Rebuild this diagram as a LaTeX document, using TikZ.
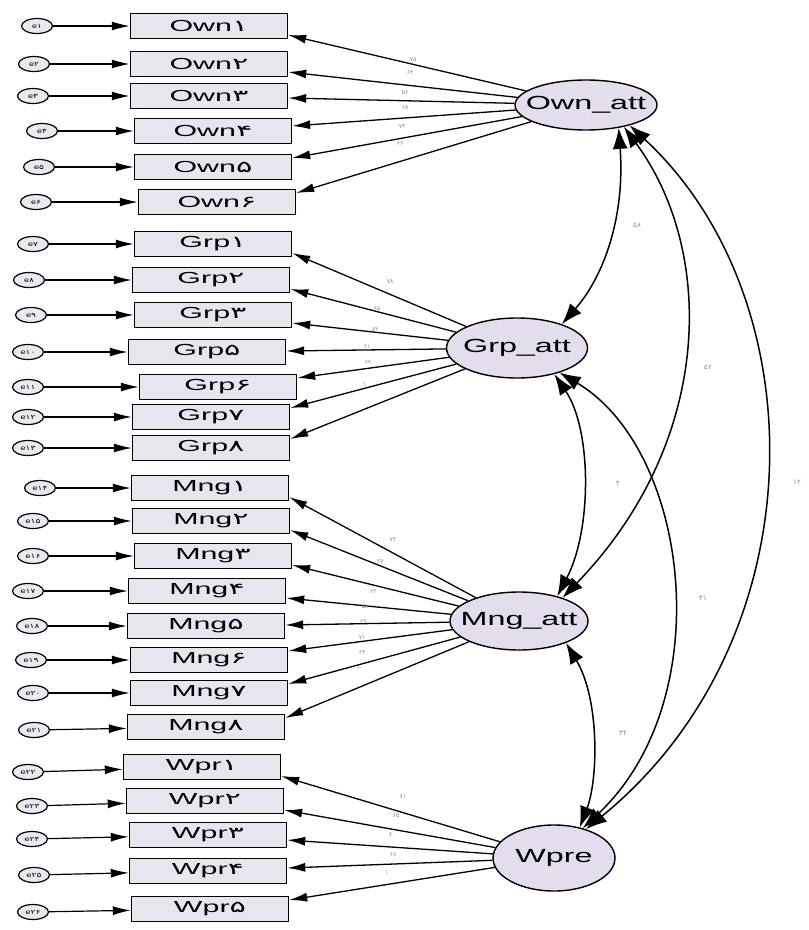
\documentclass[tikz,border=0pt]{standalone}
\usepackage{graphicx}
\usepackage{fontspec}
\setmainfont{Liberation Sans}
\newfontfamily\dvfont{DejaVu Sans}
\usetikzlibrary{arrows.meta,shapes.geometric}
\newcommand{\fd}[1]{{\dvfont #1}}
\newcommand{\wide}[2]{\scalebox{#1}[1]{#2}}
\newcommand{\lattext}[1]{\makebox[40pt]{\scalebox{1.7}[1]{#1}}}
\definecolor{boxfill}{HTML}{E8E5EF}
\definecolor{latfill}{HTML}{E3DDEE}
\definecolor{errfill}{HTML}{ECE8F2}
\definecolor{coefgray}{HTML}{8A8A8A}
\begin{document}
\begin{tikzpicture}[x=1pt,y=-1pt,
  ind/.style={draw, line width=1.4pt, fill=boxfill, minimum width=157pt, minimum height=25pt, inner sep=0pt, font=\fontsize{16}{16}\selectfont},
  lat/.style={draw, ellipse, line width=1.4pt, fill=latfill, inner sep=0pt, font=\fontsize{19}{19}\selectfont},
  err/.style={draw, ellipse, line width=1.2pt, fill=errfill, minimum width=31pt, minimum height=15pt, inner sep=0pt, font=\fontsize{6.5}{6.5}\selectfont},
  load/.style={line width=1.3pt, -{Latex[length=18pt,width=9pt]}},
  errarrow/.style={line width=1.2pt, -{Latex[length=18pt,width=9pt]}},
  cov/.style={line width=1.5pt, {Latex[length=21pt,width=15pt]}-{Latex[length=21pt,width=15pt]}},
  coef/.style={font=\fontsize{6}{6}\selectfont, text=coefgray, inner sep=0pt},
  covlab/.style={font=\fontsize{7}{7}\selectfont, text=coefgray, inner sep=0pt}
]
\fill[white] (0,0) rectangle (809,930);
\useasboundingbox (0,0) rectangle (809,930);

% latent variables
\node[lat, minimum width=142pt, minimum height=50pt] (own) at (586,105) {\lattext{Own\_att}};
\node[lat, minimum width=141pt, minimum height=60pt] (grp) at (517,348) {\lattext{Grp\_att}};
\node[lat, minimum width=138pt, minimum height=58pt] (mng) at (519,621) {\lattext{Mng\_att}};
\node[lat, minimum width=122pt, minimum height=66pt] (wpre) at (554,858) {\lattext{Wpre}};

% indicators with error terms and loadings
\foreach \nm/\cx/\cy/\base/\dig/\ex/\ey/\en/\lt/\dy in {
  o1/209/26/Own/۱/37/26/۱/own/9,
  o2/209/64/Own/۲/34/64/۲/own/8,
  o3/209/96/Own/۳/33/96/۳/own/2,
  o4/213/131/Own/۴/42/131/۴/own/-5,
  o5/213/167/Own/۵/39/167/۵/own/-9,
  o6/217/202/Own/۶/36/202/۶/own/-9,
  g1/213/244/Grp/۱/33/244/۷/grp/9,
  g2/211/280/Grp/۲/29/280/۸/grp/9,
  g3/213/315/Grp/۳/31/315/۹/grp/8,
  g5/207/352/Grp/۵/28/352/۱۰/grp/-1,
  g6/218/387/Grp/۶/28/387/۱۱/grp/-9,
  g7/211/417/Grp/۷/28/417/۱۲/grp/-9,
  g8/211/448/Grp/۸/28/448/۱۳/grp/-9,
  m1/210/488/Mng/۱/40/488/۱۴/mng/9,
  m2/211/521/Mng/۲/33/521/۱۵/mng/9,
  m3/213/556/Mng/۳/33/556/۱۶/mng/9,
  m4/207/591/Mng/۴/28/591/۱۷/mng/7,
  m5/206/626/Mng/۵/32/626/۱۸/mng/-1,
  m6/209/660/Mng/۶/31/660/۱۹/mng/-9,
  m7/209/693/Mng/۷/33/693/۲۰/mng/-9,
  m8/206/727/Mng/۸/34/730/۲۱/mng/-9,
  w1/202/767/Wpr/۱/28/772/۲۲/wpre/9,
  w2/205/801/Wpr/۲/32/806/۲۳/wpre/9,
  w3/208/835/Wpr/۳/32/839/۲۴/wpre/5,
  w4/208/871/Wpr/۴/34/875/۲۵/wpre/-3,
  w5/210/909/Wpr/۵/33/912/۲۶/wpre/-9}
{
  \node[ind] (\nm) at (\cx,\cy) {\wide{1.9}{\base\fd{\dig}}};
  \node[err] (e\nm) at (\ex,\ey) {\wide{1.4}{e\fd{\en}}};
  \draw[errarrow] (e\nm) -- (\nm);
  \draw[load] (\lt) -- ([yshift=-\dy pt]\nm.east);
}

% loading coefficients
\foreach \nm/\lx/\ly/\txt in {
  co1/413/60/۷۵, co2/410/73/۶۴, co3/405/93/۵۶, co4/405/108/۶۸, co5/402/127/۷۳, co6/400/144/۶۶,
  cg1/390/282/۷۸, cg2/377/309/۶۵, cg3/375/330/۷۴, cg5/367/347/۶۱, cg6/368/363/۶۲, cg7/365/385/۱,
  cm1/393/540/۷۲, cm2/380/562/۶۷, cm3/373/592/۶۳, cm4/365/607/۵۸, cm5/363/622/۶۹, cm6/362/638/۷۱, cm7/362/653/۶۴, cm8/360/668/۶۰,
  cw1/403/797/۷۱, cw2/396/816/۶۵, cw3/392/835/۷۰, cw4/393/855/۶۸, cw5/387/873/۱}
{
  \node[coef] (\nm) at (\lx,\ly) {\fd{\txt}};
}

% covariances
\draw[cov] (own.325) .. controls (625,215) and (605,275) .. (grp.28);
\draw[cov] (own.330) .. controls (715,250) and (715,440) .. (mng.28);
\draw[cov] (own.335) .. controls (818,300) and (818,640) .. (wpre.42);
\draw[cov] (grp.325) .. controls (592,430) and (592,530) .. (mng.33);
\draw[cov] (grp.330) .. controls (690,450) and (720,700) .. (wpre.46);
\draw[cov] (mng.335) .. controls (600,700) and (598,780) .. (wpre.50);

\node[covlab] (k1) at (637,225) {\fd{۵۸}};
\node[covlab] (k2) at (708,367) {\fd{۵۶}};
\node[covlab] (k3) at (797,482) {\fd{۱۲}};
\node[covlab] (k4) at (618,483) {\fd{۲}};
\node[covlab] (k5) at (703,598) {\fd{۳۱}};
\node[covlab] (k6) at (623,733) {\fd{۳۴}};
\end{tikzpicture}
\end{document}
